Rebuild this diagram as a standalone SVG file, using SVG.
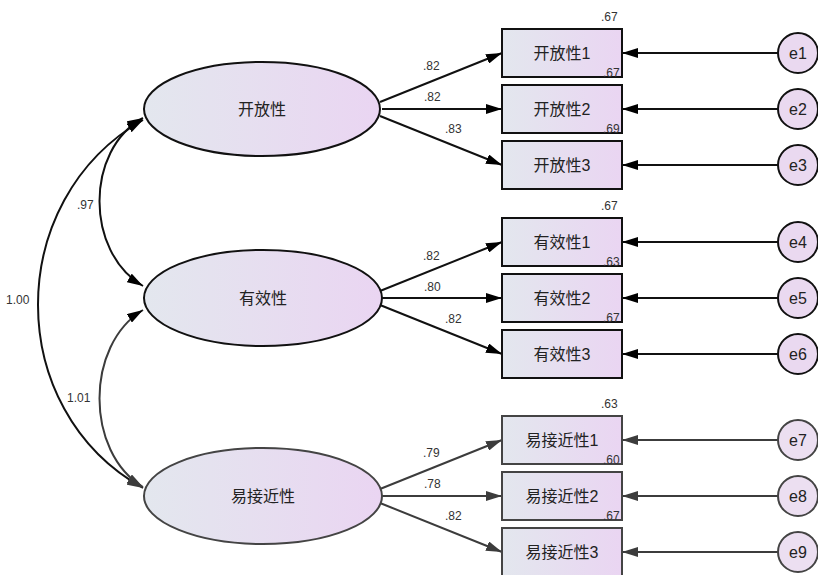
<svg xmlns="http://www.w3.org/2000/svg" width="818" height="575" viewBox="0 0 818 575">
<defs>
<linearGradient id="g" x1="0" y1="0" x2="1" y2="0">
<stop offset="0" stop-color="#e3e7ee"/>
<stop offset="1" stop-color="#ead5f2"/>
</linearGradient>
<marker id="a" viewBox="0 0 16 10" refX="16" refY="5" markerWidth="16" markerHeight="10" markerUnits="userSpaceOnUse" orient="auto">
<path d="M0,0 L16,5 L0,10 Z" fill="#000"/>
</marker>
<marker id="b" viewBox="0 0 16 10" refX="16" refY="5" markerWidth="16" markerHeight="10" markerUnits="userSpaceOnUse" orient="auto">
<path d="M0,0 L16,5 L0,10 Z" fill="#3c3c3c"/>
</marker>
<marker id="as" viewBox="0 0 16 10" refX="0" refY="5" markerWidth="16" markerHeight="10" markerUnits="userSpaceOnUse" orient="auto">
<path d="M16,0 L0,5 L16,10 Z" fill="#000"/>
</marker>
</defs>
<style>
text{font-family:"Liberation Sans","Noto Sans CJK SC",sans-serif;fill:#222}
.n{font-size:16px;text-anchor:middle;dominant-baseline:central}
.l{font-size:12px;fill:#333}
.s{fill:url(#g);stroke:#111;stroke-width:2}
.s3{fill:url(#g);stroke:#444;stroke-width:2}
.c{fill:none;stroke:#111;stroke-width:2}
.c3{fill:none;stroke:#3c3c3c;stroke-width:2}
.e{fill:#ead9f0;stroke:#111;stroke-width:2}
.e3{fill:#ecdff1;stroke:#444;stroke-width:2}
</style>
<rect width="818" height="575" fill="#fff"/>
<g id="connectors">
<path class="c" d="M380,102 L502,53" marker-end="url(#a)"/>
<path class="c" d="M382,109 L502,109" marker-end="url(#a)"/>
<path class="c" d="M380,116 L502,165" marker-end="url(#a)"/>
<path class="c" d="M380,291 L502,242" marker-end="url(#a)"/>
<path class="c" d="M382,298 L502,298" marker-end="url(#a)"/>
<path class="c" d="M380,305 L502,354" marker-end="url(#a)"/>
<path class="c3" d="M380,489 L502,440" marker-end="url(#b)"/>
<path class="c3" d="M382,496 L502,496" marker-end="url(#b)"/>
<path class="c3" d="M380,503 L502,552" marker-end="url(#b)"/>
<path class="c" d="M778,53 L622,53" marker-end="url(#a)"/>
<path class="c" d="M778,109 L622,109" marker-end="url(#a)"/>
<path class="c" d="M778,165 L622,165" marker-end="url(#a)"/>
<path class="c" d="M778,242 L622,242" marker-end="url(#a)"/>
<path class="c" d="M778,298 L622,298" marker-end="url(#a)"/>
<path class="c" d="M778,354 L622,354" marker-end="url(#a)"/>
<path class="c3" d="M778,440 L622,440" marker-end="url(#b)"/>
<path class="c3" d="M778,496 L622,496" marker-end="url(#b)"/>
<path class="c3" d="M778,552 L622,552" marker-end="url(#b)"/>
<path class="c" d="M143,118 C85,150 85,252 143,286" marker-start="url(#as)" marker-end="url(#a)"/>
<path class="c" d="M143,120 C3,200 3,410 143,488" marker-start="url(#as)" marker-end="url(#b)"/>
<path class="c3" d="M143,310 C85,345 85,452 143,487" marker-start="url(#as)" marker-end="url(#b)"/>
<text class="l" x="423" y="70">.82</text>
<text class="l" x="424" y="101">.82</text>
<text class="l" x="445" y="133">.83</text>
<text class="l" x="423" y="260">.82</text>
<text class="l" x="424" y="291">.80</text>
<text class="l" x="445" y="323">.82</text>
<text class="l" x="423" y="457">.79</text>
<text class="l" x="424" y="488">.78</text>
<text class="l" x="445" y="520">.82</text>
<text class="l" x="77" y="209">.97</text>
<text class="l" x="6" y="304">1.00</text>
<text class="l" x="67" y="402">1.01</text>
</g>
<g id="f1"><ellipse class="s" cx="262" cy="109" rx="118" ry="47"/><text class="n" x="262" y="109">开放性</text></g>
<g id="f2"><ellipse class="s" cx="263" cy="298" rx="119" ry="48"/><text class="n" x="263" y="298">有效性</text></g>
<g id="f3"><ellipse class="s3" cx="263" cy="496" rx="119" ry="48"/><text class="n" x="263" y="496">易接近性</text></g>
<g id="v1"><rect class="s" x="502" y="29" width="120" height="48"/><text class="n" x="562" y="53">开放性1</text><text class="l" x="601" y="21">.67</text></g>
<g id="v2"><rect class="s" x="502" y="85" width="120" height="48"/><text class="n" x="562" y="109">开放性2</text><text class="l" x="603" y="77">.67</text></g>
<g id="v3"><rect class="s" x="502" y="141" width="120" height="48"/><text class="n" x="562" y="165">开放性3</text><text class="l" x="603" y="133">.69</text></g>
<g id="v4"><rect class="s" x="502" y="218" width="120" height="48"/><text class="n" x="562" y="242">有效性1</text><text class="l" x="601" y="210">.67</text></g>
<g id="v5"><rect class="s" x="502" y="274" width="120" height="48"/><text class="n" x="562" y="298">有效性2</text><text class="l" x="603" y="266">.63</text></g>
<g id="v6"><rect class="s" x="502" y="330" width="120" height="48"/><text class="n" x="562" y="354">有效性3</text><text class="l" x="603" y="322">.67</text></g>
<g id="v7"><rect class="s3" x="502" y="416" width="120" height="48"/><text class="n" x="562" y="440">易接近性1</text><text class="l" x="601" y="408">.63</text></g>
<g id="v8"><rect class="s3" x="502" y="472" width="120" height="48"/><text class="n" x="562" y="496">易接近性2</text><text class="l" x="603" y="464">.60</text></g>
<g id="v9"><rect class="s3" x="502" y="528" width="120" height="48"/><text class="n" x="562" y="552">易接近性3</text><text class="l" x="603" y="520">.67</text></g>
<g id="e1"><circle class="e" cx="798" cy="53" r="20"/><text class="n" x="798" y="53">e1</text></g>
<g id="e2"><circle class="e" cx="798" cy="109" r="20"/><text class="n" x="798" y="109">e2</text></g>
<g id="e3"><circle class="e" cx="798" cy="165" r="20"/><text class="n" x="798" y="165">e3</text></g>
<g id="e4"><circle class="e" cx="798" cy="242" r="20"/><text class="n" x="798" y="242">e4</text></g>
<g id="e5"><circle class="e" cx="798" cy="298" r="20"/><text class="n" x="798" y="298">e5</text></g>
<g id="e6"><circle class="e" cx="798" cy="354" r="20"/><text class="n" x="798" y="354">e6</text></g>
<g id="e7"><circle class="e3" cx="798" cy="440" r="20"/><text class="n" x="798" y="440">e7</text></g>
<g id="e8"><circle class="e3" cx="798" cy="496" r="20"/><text class="n" x="798" y="496">e8</text></g>
<g id="e9"><circle class="e3" cx="798" cy="552" r="20"/><text class="n" x="798" y="552">e9</text></g>
</svg>
